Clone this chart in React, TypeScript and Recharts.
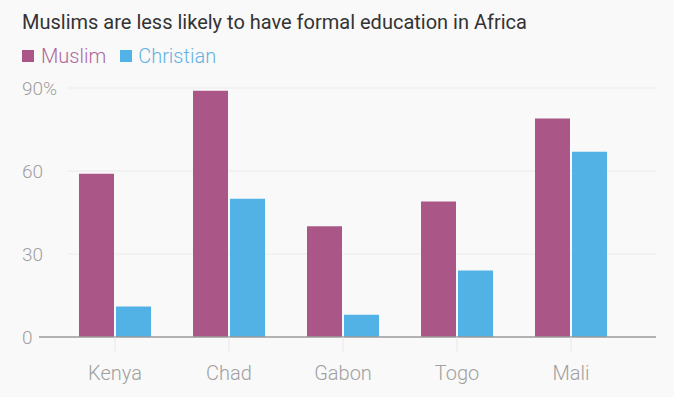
import { BarChart, Bar, XAxis, YAxis, CartesianGrid } from 'recharts';

const countries = ['Kenya', 'Chad', 'Gabon', 'Togo', 'Mali'];
const muslim = [59, 89, 40, 49, 79];
const christian = [11, 50, 8, 24, 67];
const yTicks = [0, 30, 60, 90];

const data = countries.map((c, i) => ({ country: c, muslim: muslim[i], christian: christian[i] }));

const MUSLIM = '#aa5787';
const CHRISTIAN = '#52b2e5';
const FONT = 'Roboto, "Open Sans", sans-serif';

const YTick = (props: any) => {
	const { y, payload } = props;
	return (
		<text x={22} y={y} dy="0.36em" textAnchor="start" fill="#a0a0a0" fontSize={19} fontFamily={FONT} fontWeight={300}>
			{payload.value === 90 ? '90%' : payload.value}
		</text>
	);
};

const gridLine = (props: any) => {
	const { y1, y2, x2, index } = props;
	if (y1 > 330) return <g key={`g-${index}`} />;
	return <line key={`g-${index}`} x1={67} x2={x2} y1={y1} y2={y2} stroke="#ebebeb" strokeWidth={1} />;
};

export default function App() {
	return (
		<div style={{ position: 'absolute', left: 0, top: 0, width: 674, height: 397, background: '#f9f9f9', fontFamily: FONT }}>
			<div style={{ position: 'absolute', left: 22, top: 10, fontSize: 20, color: '#333', whiteSpace: 'nowrap' }}>
				Muslims are less likely to have formal education in Africa
			</div>
			<div style={{ position: 'absolute', left: 22, top: 44, fontSize: 20, display: 'flex', alignItems: 'center', fontWeight: 300 }}>
				<span style={{ width: 12, height: 12, background: MUSLIM, display: 'inline-block', marginRight: 7 }} />
				<span style={{ color: '#b0679a', marginRight: 14 }}>Muslim</span>
				<span style={{ width: 12, height: 12, background: CHRISTIAN, display: 'inline-block', marginRight: 6 }} />
				<span style={{ color: '#62b2e2' }}>Christian</span>
			</div>
			<div style={{ position: 'absolute', left: 0, top: 0 }}>
				<BarChart width={674} height={397} data={data} margin={{ top: 88, right: 18, bottom: 0, left: 0 }} barCategoryGap={21} barGap={2}>
					<CartesianGrid vertical={false} horizontal={gridLine} />
					<XAxis
						dataKey="country"
						height={60}
						padding={{ left: 19, right: 28 }}
						axisLine={{ stroke: '#9a9a9a', strokeWidth: 1.5 }}
						tickLine={{ stroke: '#e8e8e8' }}
						tickSize={15}
						tickMargin={14}
						tick={{ fill: '#a0a0a0', fontSize: 20, fontFamily: FONT, fontWeight: 300 }}
					/>
					<YAxis width={39} domain={[0, 90]} ticks={yTicks} axisLine={false} tickLine={false} tick={<YTick />} />
					<Bar dataKey="muslim" fill={MUSLIM} barSize={35} isAnimationActive={false} />
					<Bar dataKey="christian" fill={CHRISTIAN} barSize={35} isAnimationActive={false} />
				</BarChart>
			</div>
		</div>
	);
}
